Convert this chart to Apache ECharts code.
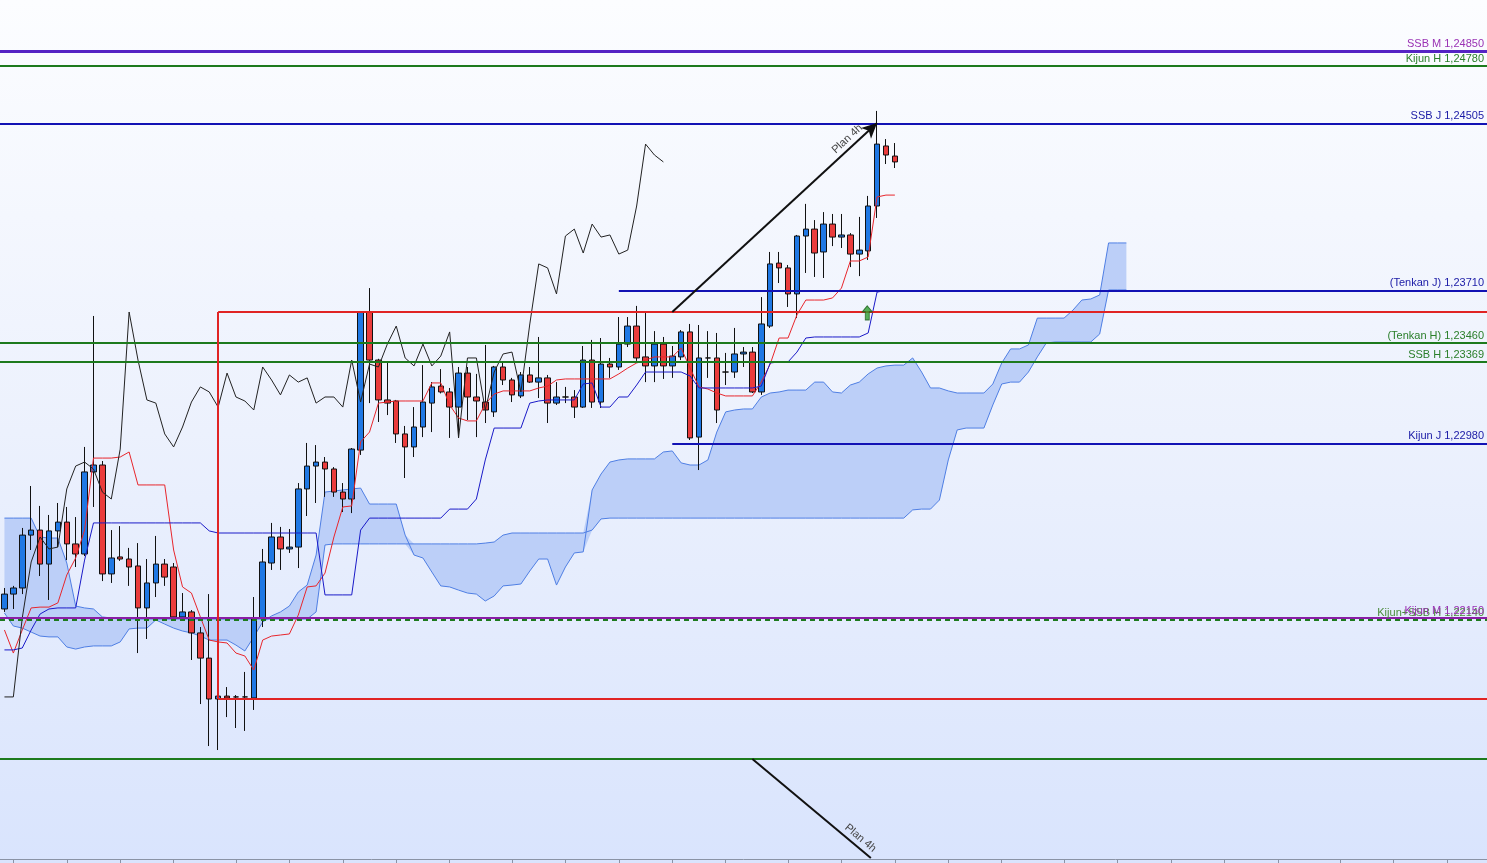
<!DOCTYPE html>
<html>
<head>
<meta charset="utf-8">
<script src="https://cdn.jsdelivr.net/npm/echarts/dist/echarts.min.js"></script>
<style>html,body{margin:0;padding:0;}#c{width:1487px;height:863px;}</style>
</head>
<body>
<div id="c"></div>
<script>
// ---- DATA ----
const slotCount = 167;
const categories = Array.from({length: slotCount}, (_, i) => String(i));
const tickIdx = [1,7,13,19,26,32,38,44,50,57,63,69,75,81,88,94,100,106,112,119,125,131,137,143,150,156,162];

// [open, close, low, high]
const candles = [
[1.22193,1.22264,1.22179,1.22293],[1.22264,1.22293,1.22193,1.22303],[1.22293,1.22545,1.22264,1.22579],[1.22545,1.22569,1.22474,1.22779],
[1.22569,1.22407,1.22350,1.22684],[1.22407,1.22565,1.22236,1.22641],[1.22565,1.22607,1.22488,1.22698],[1.22607,1.22503,1.22426,1.22679],
[1.22503,1.22455,1.22393,1.22631],[1.22455,1.22846,1.22445,1.22965],[1.22846,1.22879,1.22679,1.23589],[1.22879,1.22360,1.22326,1.22898],
[1.22360,1.22436,1.22317,1.22569],[1.22441,1.22431,1.22422,1.22588],[1.22431,1.22393,1.22303,1.22484],[1.22398,1.22198,1.21983,1.22507],
[1.22198,1.22317,1.22050,1.22431],[1.22317,1.22407,1.22250,1.22541],[1.22407,1.22345,1.22303,1.22431],[1.22393,1.22155,1.22145,1.22412],
[1.22155,1.22179,1.22141,1.22269],[1.22179,1.22079,1.21950,1.22188],[1.22079,1.21959,1.21740,1.22107],[1.21959,1.21764,1.21540,1.22264],
[1.21764,1.21778,1.21521,1.21788],[1.21778,1.21769,1.21678,1.21821],[1.21774,1.21774,1.21626,1.21783],[1.21774,1.21774,1.21612,1.21893],
[1.21769,1.22150,1.21712,1.22250],[1.22150,1.22417,1.22107,1.22479],[1.22412,1.22536,1.22379,1.22603],[1.22536,1.22479,1.22379,1.22584],
[1.22479,1.22488,1.22460,1.22574],[1.22488,1.22765,1.22388,1.22793],[1.22765,1.22874,1.22636,1.22984],[1.22874,1.22893,1.22698,1.22974],
[1.22893,1.22860,1.22727,1.22917],[1.22860,1.22750,1.22727,1.22869],[1.22750,1.22717,1.22655,1.22793],[1.22717,1.22955,1.22650,1.22960],
[1.22950,1.23608,1.22927,1.23610],[1.23608,1.23379,1.23174,1.23722],[1.23379,1.23189,1.23084,1.23385],[1.23189,1.23174,1.23117,1.23370],
[1.23184,1.23027,1.22984,1.23189],[1.23027,1.22965,1.22817,1.23065],[1.22965,1.23060,1.22917,1.23155],[1.23060,1.23179,1.23012,1.23355],
[1.23174,1.23251,1.23036,1.23274],[1.23255,1.23227,1.23220,1.23336],[1.23227,1.23155,1.23008,1.23246],[1.23155,1.23317,1.23008,1.23346],
[1.23317,1.23203,1.23093,1.23346],[1.23203,1.23184,1.23012,1.23313],[1.23179,1.23141,1.23079,1.23451],[1.23132,1.23346,1.23108,1.23351],
[1.23346,1.23284,1.23260,1.23370],[1.23284,1.23213,1.23179,1.23294],[1.23208,1.23308,1.23198,1.23322],[1.23308,1.23274,1.23270,1.23346],
[1.23274,1.23294,1.23198,1.23489],[1.23294,1.23174,1.23079,1.23308],[1.23174,1.23203,1.23165,1.23274],[1.23203,1.23203,1.23174,1.23251],
[1.23203,1.23155,1.23103,1.23236],[1.23155,1.23379,1.23151,1.23446],[1.23379,1.23179,1.23151,1.23475],[1.23179,1.23360,1.23151,1.23484],
[1.23360,1.23346,1.23294,1.23389],[1.23346,1.23455,1.23332,1.23584],[1.23455,1.23541,1.23441,1.23584],[1.23541,1.23389,1.23375,1.23637],
[1.23394,1.23351,1.23274,1.23603],[1.23351,1.23455,1.23274,1.23517],[1.23455,1.23351,1.23289,1.23489],[1.23351,1.23398,1.23294,1.23446],
[1.23394,1.23513,1.23379,1.23522],[1.23513,1.23008,1.22998,1.23551],[1.23012,1.23389,1.22855,1.23546],[1.23389,1.23389,1.23294,1.23517],
[1.23389,1.23141,1.23079,1.23508],[1.23322,1.23322,1.23260,1.23413],[1.23322,1.23408,1.23294,1.23532],[1.23408,1.23417,1.23346,1.23441],
[1.23417,1.23227,1.23222,1.23441],[1.23227,1.23551,1.23213,1.23679],[1.23541,1.23837,1.23532,1.23894],[1.23841,1.23818,1.23746,1.23894],
[1.23818,1.23694,1.23632,1.23832],[1.23694,1.23970,1.23579,1.23975],[1.23970,1.24003,1.23794,1.24123],[1.24003,1.23889,1.23775,1.24046],
[1.23894,1.24027,1.23770,1.24084],[1.24027,1.23965,1.23922,1.24075],[1.23965,1.23975,1.23913,1.24075],[1.23975,1.23884,1.23822,1.23984],
[1.23884,1.23903,1.23779,1.24061],[1.23899,1.24113,1.23856,1.24161],[1.24113,1.24408,1.24056,1.24566],[1.24399,1.24356,1.24313,1.24432],
[1.24351,1.24323,1.24294,1.24413]
];

const tenkan = [
1.22093,1.21983,1.22093,1.22198,1.22202,1.22202,1.22222,1.22355,1.22436,1.22569,
1.22912,1.22912,1.22912,1.22917,1.22941,1.22784,1.22784,1.22784,1.22784,1.22474,
1.22298,1.22269,1.22155,1.22045,1.22036,1.22031,1.21983,1.21969,1.21902,1.22045,
1.22064,1.22069,1.22074,1.22164,1.22298,1.22303,1.22364,1.22536,1.22679,1.22684,
1.22989,1.23036,1.23174,1.23179,1.23184,1.23184,1.23184,1.23184,1.23270,1.23270,
1.23165,1.23103,1.23089,1.23089,1.23170,1.23217,1.23232,1.23232,1.23232,1.23232,
1.23246,1.23255,1.23284,1.23289,1.23289,1.23289,1.23289,1.23289,1.23289,1.23313,
1.23341,1.23365,1.23379,1.23394,1.23394,1.23394,1.23436,1.23341,1.23251,1.23241,
1.23222,1.23208,1.23208,1.23208,1.23208,1.23274,1.23360,1.23484,1.23484,1.23594,
1.23665,1.23665,1.23665,1.23675,1.23722,1.23851,1.23851,1.23870,1.24156,1.24165,
1.24165];

const kijun = [
1.21998,1.21998,1.22007,1.22093,1.22169,1.22193,1.22198,1.22198,1.22198,1.22426,
1.22603,1.22603,1.22603,1.22603,1.22603,1.22603,1.22603,1.22603,1.22603,1.22603,
1.22603,1.22603,1.22603,1.22565,1.22555,1.22555,1.22555,1.22555,1.22555,1.22555,
1.22555,1.22555,1.22555,1.22555,1.22555,1.22555,1.22260,1.22260,1.22260,1.22260,
1.22569,1.22626,1.22626,1.22626,1.22626,1.22626,1.22626,1.22626,1.22626,1.22626,
1.22669,1.22669,1.22669,1.22717,1.22903,1.23055,1.23055,1.23055,1.23055,1.23174,
1.23184,1.23189,1.23189,1.23189,1.23189,1.23265,1.23270,1.23155,1.23155,1.23203,
1.23203,1.23260,1.23322,1.23322,1.23322,1.23322,1.23322,1.23303,1.23246,1.23246,
1.23246,1.23246,1.23246,1.23246,1.23246,1.23255,1.23365,1.23370,1.23370,1.23417,
1.23484,1.23489,1.23489,1.23489,1.23489,1.23489,1.23489,1.23508,1.23703,1.23710,
1.23710];

// Senkou spans (already displaced 26 ahead), index 0..126
const spanP = [
1.22626,1.22626,1.22626,1.22626,1.22536,1.22531,1.22531,1.22412,1.22207,1.22198,
1.22193,1.22155,1.22150,1.22145,1.22145,1.22145,1.22145,1.22145,1.22145,1.22145,
1.22145,1.22145,1.22145,1.22145,1.22145,1.22145,1.22145,1.22145,1.22145,1.22145,
1.22145,1.22145,1.22145,1.22145,1.22145,1.22179,1.22498,1.22503,1.22503,1.22503,
1.22503,1.22503,1.22503,1.22503,1.22503,1.22503,1.22503,1.22503,1.22503,1.22503,
1.22503,1.22503,1.22503,1.22503,1.22507,1.22512,1.22545,1.22555,1.22555,1.22555,
1.22555,1.22555,1.22555,1.22555,1.22555,1.22555,1.22569,1.22622,1.22626,1.22626,
1.22626,1.22626,1.22626,1.22626,1.22626,1.22626,1.22626,1.22626,1.22626,1.22626,
1.22626,1.22626,1.22626,1.22626,1.22626,1.22626,1.22626,1.22626,1.22626,1.22626,
1.22626,1.22626,1.22626,1.22626,1.22626,1.22626,1.22626,1.22626,1.22626,1.22626,
1.22626,1.22626,1.22665,1.22669,1.22669,1.22712,1.22903,1.23046,1.23055,1.23055,
1.23055,1.23165,1.23265,1.23274,1.23274,1.23322,1.23394,1.23460,1.23465,1.23465,
1.23465,1.23465,1.23465,1.23503,1.23713,1.23713,1.23713];

const spanQ = [
1.22174,1.22112,1.22102,1.22083,1.22064,1.22060,1.22060,1.22012,1.22002,1.22012,
1.22017,1.22017,1.22017,1.22036,1.22098,1.22102,1.22102,1.22141,1.22121,1.22102,
1.22088,1.22079,1.22064,1.22045,1.22045,1.22045,1.22021,1.21993,1.22060,1.22131,
1.22160,1.22179,1.22207,1.22274,1.22307,1.22450,1.22750,1.22755,1.22760,1.22765,
1.22769,1.22693,1.22693,1.22693,1.22693,1.22545,1.22450,1.22436,1.22369,1.22303,
1.22298,1.22283,1.22269,1.22264,1.22231,1.22255,1.22303,1.22307,1.22312,1.22374,
1.22431,1.22431,1.22307,1.22393,1.22460,1.22465,1.22760,1.22836,1.22893,1.22903,
1.22908,1.22908,1.22908,1.22908,1.22941,1.22946,1.22889,1.22879,1.22879,1.22903,
1.23036,1.23132,1.23141,1.23146,1.23146,1.23203,1.23222,1.23227,1.23236,1.23236,
1.23236,1.23274,1.23274,1.23227,1.23222,1.23260,1.23274,1.23313,1.23341,1.23351,
1.23355,1.23355,1.23389,1.23322,1.23246,1.23246,1.23232,1.23222,1.23222,1.23222,
1.23222,1.23265,1.23365,1.23432,1.23432,1.23451,1.23579,1.23579,1.23579,1.23579,
1.23617,1.23665,1.23670,1.23689,1.23937,1.23937,1.23937];

const chikouShift = 26;

// Horizontal levels
const levelNames  = ['SSB M 1,24850','Kijun H 1,24780','SSB J 1,24505','(Tenkan J) 1,23710','(Tenkan H) 1,23460','SSB H 1,23369','Kijun J 1,22980','Kijun+SSB H 1,22140','Kijun M 1,22150','','',''];
const levelValues = [1.24850,1.24780,1.24505,1.23710,1.23460,1.23369,1.22980,1.22140,1.22150,1.23608,1.21764,1.21478];
const levelStart  = [-0.5,-0.5,-0.5,69,-0.5,-0.5,75,-0.5,-0.5,24,24,-0.5];
const levelKind   = ['monthTop','weekly','daily','daily','weekly','weekly','daily','weeklyDash','monthly','box','box','weekly'];

// Box left edge and plan lines
const boxEdge = {x: 24, top: 1.23608, bottom: 1.21764};
const planUp = [[75, 1.23608],[98, 1.24508]];
const planDown = [[84, 1.21478],[97.3, 1.21007]];
const signalArrow = [[96.9, 1.23604]];

const yMin = 1.210018, yMax = 1.250945;
const xMin = -0.5, xMax = 166.5;

// ---- STYLES ----
const kindStyle = {
  monthTop:  {color:'#5523c4', width:3, type:'solid', label:'#9a32b4'},
  monthly:   {color:'#8a1ea6', width:2, type:'solid', label:'#9a32b4'},
  weekly:    {color:'#1d7a1d', width:2, type:'solid', label:'#2a7f2a'},
  weeklyDash:{color:'#1d7a1d', width:2, type:[5,4], label:'#4a8a3a'},
  daily:     {color:'#1212b4', width:2, type:'solid', label:'#1a1aa6'},
  box:       {color:'#e02424', width:2, type:'solid', label:'#e02424'}
};
const FONT = 'Liberation Sans, Arial, sans-serif';

// ---- BUILD ----
const chikou = candles.map((c, i) => (i - chikouShift >= 0 ? null : null));
const chikouData = [];
for (let i = 0; i + chikouShift < candles.length; i++) chikouData.push(candles[i + chikouShift][1]);

const cloudLow = spanP.map((p, i) => Math.min(p, spanQ[i]));
const cloudBand = spanP.map((p, i) => +(Math.abs(p - spanQ[i])).toFixed(6));

const markData = levelValues.map((v, i) => {
  const st = kindStyle[levelKind[i]];
  return [
    {coord:[levelStart[i], v], symbol:'none',
     lineStyle:{color:st.color, width:st.width, type:st.type},
     label:{show: levelNames[i] !== '', formatter: levelNames[i], position:'insideEndTop',
            color: st.label, fontSize:11, fontFamily:FONT, distance:[3,2]}},
    {coord:[xMax, v], symbol:'none'}
  ];
});
markData.push([
  {coord:[boxEdge.x, boxEdge.top], symbol:'none', lineStyle:{color:kindStyle.box.color, width:2, type:'solid'}, label:{show:false}},
  {coord:[boxEdge.x, boxEdge.bottom], symbol:'none'}
]);
markData.push([
  {coord:planUp[0], symbol:'none', lineStyle:{color:'#111', width:2, type:'solid'},
   label:{show:true, formatter:'Plan 4h', position:'insideEndTop', color:'#444', fontSize:11, fontFamily:FONT, distance:[14,3]}},
  {coord:planUp[1], symbol:'arrow', symbolSize:[11,15]}
]);
markData.push([
  {coord:planDown[0], symbol:'none', lineStyle:{color:'#111', width:2, type:'solid'},
   label:{show:true, formatter:'Plan 4h', position:'insideEndTop', color:'#444', fontSize:11, fontFamily:FONT, distance:[2,3]}},
  {coord:planDown[1], symbol:'none'}
]);

const chart = echarts.init(document.getElementById('c'), null, {renderer:'canvas'});
chart.setOption({
  animation:false,
  backgroundColor:{type:'linear', x:0, y:0, x2:0, y2:1,
    colorStops:[{offset:0,color:'#fcfdff'},{offset:0.5,color:'#ecf1fd'},{offset:1,color:'#d9e4fd'}]},
  grid:{left:-2, right:0, top:0, bottom:4, containLabel:false},
  xAxis:[
    {type:'category', data:categories, boundaryGap:true,
     axisLine:{show:true, lineStyle:{color:'#8a93a5', width:1}},
     axisTick:{show:true, alignWithLabel:true, length:4, interval:(idx)=>tickIdx.indexOf(idx) >= 0, lineStyle:{color:'#8a93a5'}},
     axisLabel:{show:false}, splitLine:{show:false}},
    {type:'value', min:xMin, max:xMax, show:false}
  ],
  yAxis:{type:'value', min:yMin, max:yMax, show:false, scale:true},
  series:[
    {name:'cloudBase', type:'line', data:cloudLow, stack:'kumo', symbol:'none', silent:true,
     lineStyle:{opacity:0}, z:1},
    {name:'cloud', type:'line', data:cloudBand, stack:'kumo', symbol:'none', silent:true,
     lineStyle:{opacity:0}, areaStyle:{color:'#bccff8', opacity:1}, z:1},
    {name:'SSA', type:'line', data:spanP, symbol:'none', silent:true, lineStyle:{color:'#4f7fe4', width:1}, z:1},
    {name:'SSB', type:'line', data:spanQ, symbol:'none', silent:true, lineStyle:{color:'#4f7fe4', width:1}, z:1},
    {name:'price', type:'candlestick', data:candles, barWidth:6, z:2,
     itemStyle:{color:'#1f78e4', color0:'#ea3c3c', borderColor:'#111', borderColor0:'#111', borderWidth:1}},
    {name:'Tenkan', type:'line', data:tenkan, symbol:'none', lineStyle:{color:'#e8262c', width:1}, z:3},
    {name:'Kijun', type:'line', data:kijun, symbol:'none', lineStyle:{color:'#1a1ac8', width:1}, z:3},
    {name:'Chikou', type:'line', data:chikouData, symbol:'none', lineStyle:{color:'#222', width:1}, z:3},
    {name:'signal', type:'scatter', xAxisIndex:1, data:signalArrow, z:6,
     symbol:'path://M5,0 L10,6 L7,6 L7,14 L3,14 L3,6 L0,6 Z', symbolSize:[10,14],
     itemStyle:{color:'#2e9e2e', borderColor:'#1b5e1b', borderWidth:1},
     markLine:{silent:true, symbol:'none', animation:false, data:markData}}
  ]
});
</script>
</body>
</html>
